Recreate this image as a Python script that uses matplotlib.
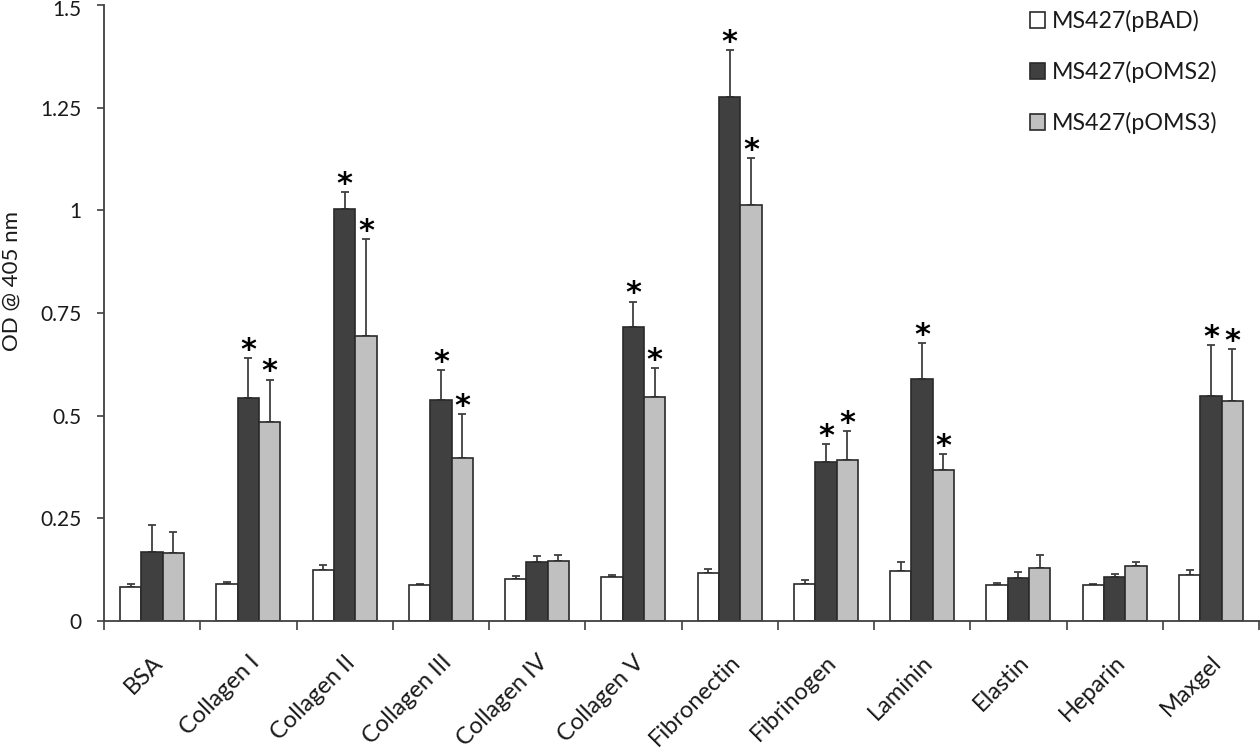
import numpy as np
import matplotlib
matplotlib.use("Agg")
import matplotlib.pyplot as plt
from matplotlib.patches import Patch
from matplotlib.transforms import ScaledTranslation

plt.rcParams['font.family'] = ['Lato', 'DejaVu Sans']

categories = ["BSA", "Collagen I", "Collagen II", "Collagen III", "Collagen IV", "Collagen V",
              "Fibronectin", "Fibrinogen", "Laminin", "Elastin", "Heparin", "Maxgel"]
series_names = ["MS427(pBAD)", "MS427(pOMS2)", "MS427(pOMS3)"]

pbad = [0.084, 0.091, 0.125, 0.087, 0.103, 0.106, 0.116, 0.091, 0.121, 0.087, 0.087, 0.113]
pbad_err = [0.005, 0.004, 0.012, 0.003, 0.006, 0.005, 0.011, 0.008, 0.023, 0.005, 0.004, 0.011]
poms2 = [0.168, 0.542, 1.004, 0.537, 0.143, 0.717, 1.275, 0.387, 0.590, 0.104, 0.106, 0.549]
poms2_err = [0.066, 0.099, 0.040, 0.073, 0.016, 0.061, 0.116, 0.044, 0.088, 0.015, 0.009, 0.122]
poms3 = [0.166, 0.485, 0.693, 0.398, 0.146, 0.546, 1.014, 0.391, 0.368, 0.130, 0.134, 0.536]
poms3_err = [0.050, 0.103, 0.236, 0.107, 0.014, 0.070, 0.114, 0.071, 0.038, 0.030, 0.009, 0.126]

# significance stars (pBAD never marked)
sig2 = [0, 1, 1, 1, 0, 1, 1, 1, 1, 0, 0, 1]
sig3 = [0, 1, 1, 1, 0, 1, 1, 1, 1, 0, 0, 1]

yticks = [0, 0.25, 0.5, 0.75, 1, 1.25, 1.5]
ytick_labels = ["0", "0.25", "0.5", "0.75", "1", "1.25", "1.5"]

colors = ["#ffffff", "#404040", "#c0c0c0"]
edge = "#2a2a2a"
axis_col = "#404040"
text_col = "#1a1a1a"

fig = plt.figure(figsize=(12.6, 7.49), dpi=100)
ax = fig.add_axes([104 / 1260, 128 / 749, 1155 / 1260, 616 / 749])

centers = np.arange(len(categories)) + 0.5
w = 0.222
vals = [pbad, poms2, poms3]
errs = [pbad_err, poms2_err, poms3_err]
sigs = [None, sig2, sig3]

for k in range(3):
    x = centers + (k - 1) * w
    ax.bar(x, vals[k], width=w, color=colors[k], edgecolor=edge, linewidth=1.2, zorder=2)
    e = np.array(errs[k])
    ax.errorbar(x, vals[k], yerr=[np.zeros_like(e), e], fmt="none", ecolor=axis_col,
                elinewidth=1.3, capsize=3, capthick=1.3, zorder=1)
    if sigs[k] is not None:
        for xi, v, ei, s in zip(x, vals[k], e, sigs[k]):
            if s:
                ax.annotate("*", (xi, v + ei), xytext=(0, -5), textcoords="offset points",
                            ha="center", va="bottom", fontsize=22, color="black",
                            family="DejaVu Sans", fontweight="bold")

ax.set_xlim(0, len(categories))
ax.set_ylim(0, 1.5)
ax.set_yticks(yticks)
ax.set_yticklabels(ytick_labels)
ax.set_xticks(np.arange(len(categories) + 1))
ax.set_xticklabels([])
ax.set_xticks(centers, categories, minor=True)
for lab in ax.get_xticklabels(minor=True):
    lab.set_rotation(45)
    lab.set_ha("right")
    lab.set_va("top")
    lab.set_rotation_mode("anchor")

ax.tick_params(axis="x", which="major", length=6.5, width=1.2, color=axis_col)
ax.tick_params(axis="x", which="minor", length=0, pad=22, labelsize=17, labelcolor=text_col)
ax.tick_params(axis="y", length=5, width=1.2, color=axis_col, pad=11, labelsize=15,
               labelcolor=text_col)

# nudge the top label down a touch so it stays inside the figure
top_lab = ax.get_yticklabels()[-1]
top_lab.set_transform(top_lab.get_transform() + ScaledTranslation(0, -2.5 / 72, fig.dpi_scale_trans))

for s in ["top", "right"]:
    ax.spines[s].set_visible(False)
for s in ["left", "bottom"]:
    ax.spines[s].set_color(axis_col)
    ax.spines[s].set_linewidth(1.3)

ax.set_ylabel("OD @ 405 nm", fontsize=16, color=text_col)
ax.yaxis.set_label_coords(-0.0715, 0.552)

handles = [Patch(facecolor=c, edgecolor=edge, linewidth=1.2) for c in colors]
fig.legend(handles, series_names, loc="upper left", bbox_to_anchor=(1009 / 1260, 1 + 11 / 749),
           frameon=False, fontsize=16.7, handlelength=0.65, handleheight=0.65,
           handletextpad=0.3, labelspacing=1.25, labelcolor=text_col)

fig.savefig("out.png", dpi=100)
